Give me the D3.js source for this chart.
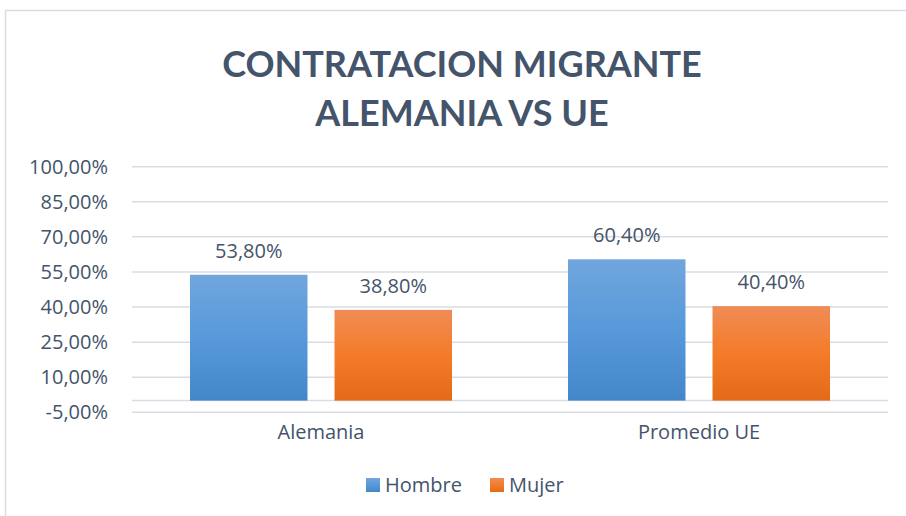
<!DOCTYPE html>
<html>
<head>
<meta charset="utf-8">
<script src="https://cdn.jsdelivr.net/npm/d3@7"></script>
<style>
  body { margin: 0; background: #fff; }
  svg { display: block; font-family: "Open Sans", sans-serif; }
</style>
</head>
<body>
<svg width="906" height="516"></svg>
<script>
// chart data
const categories = ['Alemania', 'Promedio UE']
const series = ['Hombre', 'Mujer']
const hombre = [0.538, 0.604]
const mujer = [0.388, 0.404]
const yTicks = [-0.05, 0.10, 0.25, 0.40, 0.55, 0.70, 0.85, 1.00]
const titleLines = ['CONTRATACION MIGRANTE', 'ALEMANIA VS UE']

const textColor = '#44546A'
const fmt = v => d3.format('.2f')(v * 100).replace('.', ',').replace('\u2212', '-') + '%'

const svg = d3.select('svg')

// gradients like the office fill
const defs = svg.append('defs')
const grads = {
  Hombre: ['#71A6DD', '#5799DA', '#4487C9'],
  Mujer: ['#F08C56', '#F47B29', '#E36A18']
}
Object.keys(grads).forEach(function(k) {
  const g = defs.append('linearGradient')
    .attr('id', 'grad-' + k)
    .attr('x1', 0).attr('y1', 0).attr('x2', 0).attr('y2', 1)
  g.append('stop').attr('offset', '0%').attr('stop-color', grads[k][0])
  g.append('stop').attr('offset', '50%').attr('stop-color', grads[k][1])
  g.append('stop').attr('offset', '100%').attr('stop-color', grads[k][2])
})

// outer frame (only top and left edges visible)
svg.append('path')
  .attr('d', 'M5.5,516 V10.5 H906')
  .attr('fill', 'none')
  .attr('stroke', '#D9DDE3')
  .attr('stroke-width', 1.5)

// title
svg.append('text')
  .attr('text-anchor', 'middle')
  .attr('fill', textColor)
  .style('font-family', 'Lato, sans-serif')
  .style('font-weight', 'bold')
  .style('font-size', '36px')
  .selectAll('tspan')
  .data(titleLines)
  .enter()
  .append('tspan')
  .attr('x', 462)
  .attr('y', (d, i) => 77 + i * 49)
  .text(d => d)

const left = 132, right = 888
const yScale = d3.scaleLinear()
  .domain([-0.05, 1.00])
  .range([412.3, 166.7])

// gridlines
svg.append('g')
  .selectAll('line')
  .data(yTicks)
  .enter()
  .append('line')
  .attr('x1', left).attr('x2', right)
  .attr('y1', d => yScale(d)).attr('y2', d => yScale(d))
  .attr('stroke', '#D9DDE3')
  .attr('stroke-width', 1.5)

// zero line
svg.append('line')
  .attr('x1', left).attr('x2', right)
  .attr('y1', yScale(0)).attr('y2', yScale(0))
  .attr('stroke', '#D9DDE3')
  .attr('stroke-width', 1.5)

// y labels
svg.append('g')
  .selectAll('text')
  .data(yTicks)
  .enter()
  .append('text')
  .attr('x', 108)
  .attr('y', d => yScale(d))
  .attr('dy', '0.35em')
  .attr('text-anchor', 'end')
  .attr('fill', textColor)
  .style('font-size', '20px')
  .text(fmt)

const x0 = d3.scaleBand()
  .domain(categories)
  .range([left, right])
const x1 = d3.scaleBand()
  .domain(series)
  .range([58, x0.bandwidth() - 58])
  .paddingInner(0.187)

const rows = []
categories.forEach(function(c, i) {
  rows.push({ cat: c, s: 'Hombre', v: hombre[i] })
  rows.push({ cat: c, s: 'Mujer', v: mujer[i] })
})

svg.append('g')
  .selectAll('rect')
  .data(rows)
  .enter()
  .append('rect')
  .attr('x', d => x0(d.cat) + x1(d.s))
  .attr('y', d => yScale(d.v))
  .attr('width', x1.bandwidth())
  .attr('height', d => yScale(0) - yScale(d.v))
  .attr('fill', d => 'url(#grad-' + d.s + ')')

// data labels
svg.append('g')
  .selectAll('text')
  .data(rows)
  .enter()
  .append('text')
  .attr('x', d => x0(d.cat) + x1(d.s) + x1.bandwidth() / 2)
  .attr('y', d => yScale(d.v) - 17)
  .attr('text-anchor', 'middle')
  .attr('fill', textColor)
  .style('font-size', '20px')
  .text(d => fmt(d.v))

// category labels
svg.append('g')
  .selectAll('text')
  .data(categories)
  .enter()
  .append('text')
  .attr('x', d => x0(d) + x0.bandwidth() / 2)
  .attr('y', 439)
  .attr('text-anchor', 'middle')
  .attr('fill', textColor)
  .style('font-size', '20px')
  .text(d => d)

// legend
const legendX = [366, 490]
const legend = svg.append('g')
  .selectAll('g')
  .data(series)
  .enter()
  .append('g')
  .attr('transform', (d, i) => `translate(${legendX[i]}, 478)`)
legend.append('rect')
  .attr('width', 14).attr('height', 14)
  .attr('fill', d => 'url(#grad-' + d + ')')
legend.append('text')
  .attr('x', 19)
  .attr('y', 14)
  .attr('fill', textColor)
  .style('font-size', '20px')
  .text(d => d)
</script>
</body>
</html>
